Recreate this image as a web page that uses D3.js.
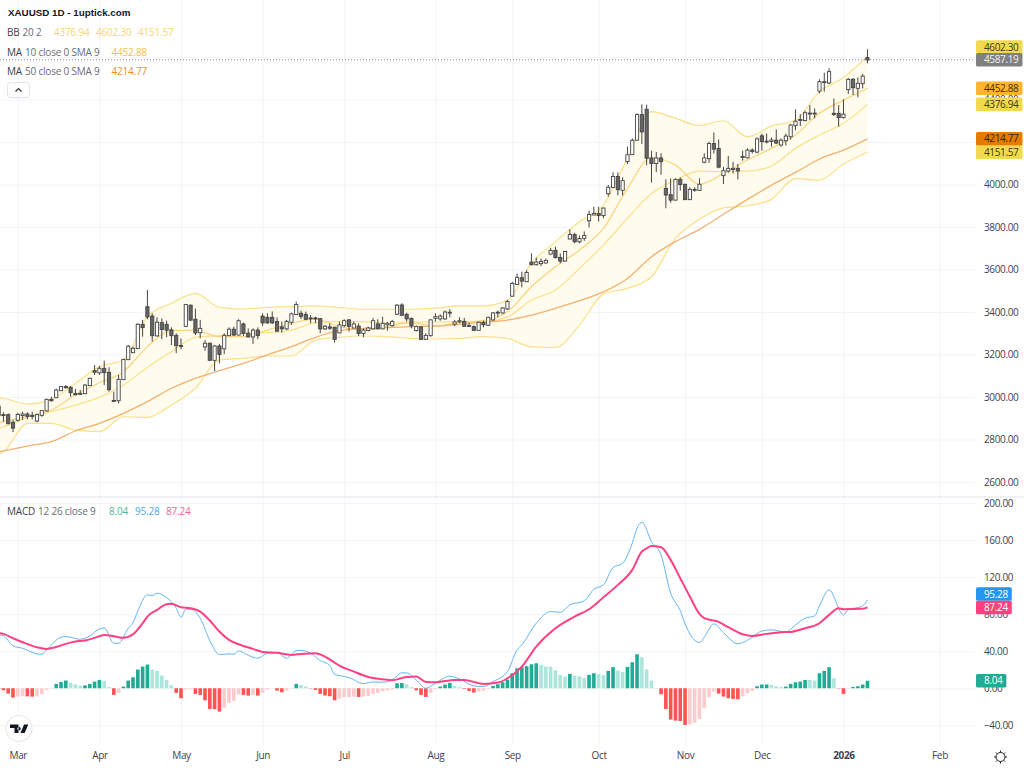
<!DOCTYPE html>
<html>
<head>
<meta charset="utf-8">
<script src="https://cdn.jsdelivr.net/npm/d3@7"></script>
<style>
html,body{margin:0;padding:0;background:#fff;overflow:hidden}
text{font-family:"Open Sans",sans-serif;font-size:10px;letter-spacing:-0.2px}
.tick text,.tag{letter-spacing:-0.35px}
</style>
</head>
<body>
<svg id="chart" width="1024" height="768"></svg>
<script>
//candles, first one is bar -1 (cut by the left edge)
var opens=[2957,2917,2917,2881,2892,2914,2920,2914,2888,2915,
2936,2989,2998,3031,3049,3045,3017,3017,3017,3055,
3124,3115,3135,3116,2984,2984,3083,3177,3210,3229,
3342,3425,3381,3289,3350,3342,3316,3290,3242,3334,
3432,3366,3304,3237,3253,3174,3240,3228,3290,3319,
3293,3344,3300,3284,3315,3381,3375,3375,3355,3330,
3322,3353,3389,3394,3389,3372,3372,3369,3322,3330,
3328,3303,3337,3363,3326,3334,3300,3314,3322,3344,
3322,3341,3337,3391,3433,3389,3370,3314,3330,3273,
3290,3372,3369,3369,3396,3344,3355,3356,3336,3331,
3315,3350,3339,3364,3396,3397,3416,3476,3531,3561,
3544,3635,3624,3629,3632,3674,3690,3657,3641,3745,
3764,3732,3748,3831,3858,3864,3855,3958,3987,4038,
3974,4109,4142,4210,4329,4354,4125,4100,4125,3982,
3952,3928,4024,4001,3930,3974,3974,4106,4123,4193,
4170,4043,4065,4072,4076,4129,4127,4162,4154,4229,
4201,4204,4209,4187,4207,4226,4278,4303,4302,4333,
4333,4441,4481,4479,4335,4335,4316,4448,4495,4454,
4476,4597]
var highs=[2970,2928,2923,2892,2926,2931,2928,2931,2923,2939,
2992,3001,3039,3052,3056,3052,3038,3033,3061,3091,
3151,3146,3171,3140,3025,3104,3180,3245,3237,3347,
3363,3504,3394,3375,3370,3359,3328,3300,3276,3438,
3435,3416,3363,3268,3256,3245,3250,3300,3328,3331,
3366,3350,3323,3323,3328,3394,3394,3403,3375,3355,
3363,3397,3449,3407,3402,3386,3378,3372,3339,3347,
3331,3355,3366,3366,3355,3347,3322,3331,3372,3366,
3378,3353,3363,3438,3441,3397,3374,3337,3333,3300,
3366,3394,3389,3407,3413,3363,3375,3372,3350,3337,
3355,3359,3378,3400,3407,3422,3457,3542,3581,3589,
3597,3676,3657,3652,3652,3702,3707,3676,3688,3789,
3773,3760,3779,3877,3895,3895,3892,3998,4057,4057,
4034,4178,4217,4335,4377,4376,4159,4153,4147,4024,
4029,4029,4034,4004,3987,3987,4029,4147,4201,4245,
4212,4083,4134,4107,4096,4159,4170,4170,4222,4240,
4240,4222,4259,4217,4240,4284,4353,4331,4347,4374,
4358,4495,4526,4547,4405,4374,4401,4501,4501,4504,
4520,4636]
var lows=[2907,2884,2871,2835,2884,2892,2895,2895,2881,2907,
2932,2978,2995,3028,3039,3001,3008,3011,3014,3052,
3104,3104,3056,3025,2976,2970,3080,3174,3207,3226,
3284,3366,3261,3284,3272,3281,3245,3206,3224,3328,
3359,3292,3276,3218,3171,3122,3158,3202,3287,3287,
3289,3287,3281,3250,3272,3334,3344,3344,3308,3303,
3315,3339,3386,3367,3363,3347,3347,3300,3315,3315,
3256,3300,3328,3308,3323,3287,3281,3309,3319,3319,
3319,3312,3331,3385,3383,3355,3323,3308,3268,3268,
3284,3355,3359,3363,3375,3334,3347,3331,3331,3312,
3312,3328,3334,3359,3375,3391,3410,3472,3528,3516,
3541,3619,3619,3616,3629,3668,3652,3629,3636,3742,
3723,3723,3735,3798,3855,3825,3841,3943,3983,3949,
3949,4096,4139,4206,4191,4090,4009,4059,4046,3888,
3914,3924,3971,3927,3927,3966,3971,4100,4102,4146,
4076,4002,4055,4052,4024,4112,4123,4146,4146,4159,
4193,4178,4190,4178,4184,4212,4256,4275,4297,4303,
4311,4429,4437,4473,4322,4272,4311,4426,4421,4410,
4452,4570]
var closes=[2915,2914,2876,2855,2918,2920,2910,2910,2917,2936,
2989,2984,3033,3049,3045,3022,3012,3014,3056,3088,
3118,3135,3116,3036,2981,3083,3177,3239,3229,3342,
3328,3378,3290,3352,3319,3316,3290,3243,3239,3435,
3363,3303,3323,3253,3174,3240,3202,3290,3319,3293,
3359,3300,3284,3315,3290,3350,3350,3350,3311,3322,
3356,3391,3435,3381,3367,3369,3369,3322,3333,3325,
3273,3339,3359,3334,3344,3300,3315,3325,3359,3322,
3347,3347,3355,3432,3386,3369,3336,3331,3273,3290,
3363,3378,3381,3400,3399,3353,3359,3334,3334,3315,
3352,3341,3375,3396,3399,3419,3449,3534,3563,3547,
3586,3624,3635,3638,3643,3690,3657,3641,3685,3765,
3732,3746,3760,3859,3864,3855,3889,3987,4038,3977,
4018,4140,4208,4329,4249,4125,4100,4125,4109,3952,
3928,4024,4001,3930,3977,3977,4001,4125,4193,4168,
4083,4065,4076,4076,4065,4132,4162,4157,4215,4203,
4204,4209,4196,4209,4228,4280,4298,4306,4338,4336,
4336,4484,4484,4531,4331,4316,4331,4495,4457,4476,
4510,4587.19]

//overlays read every 5 bars
var overlayBars=[-1,0,5,10,15,20,25,30,35,40,45,50,55,60,65,70,75,80,85,90,95,100,105,110,115,120,125,130,135,140,145,150,155,160,165,170,175,180]
var bbUpper=[2997,2994,2967,2989,3064,3143,3174,3378,3441,3488,3422,3414,3422,3425,3429,3421,3413,3413,3413,3418,3429,3429,3456,3629,3731,3825,3903,4123,4343,4312,4277,4300,4225,4275,4303,4437,4504,4602.30]
var bbLower=[2732,2742,2876,2876,2844,2837,2907,2904,2962,3041,3174,3182,3193,3193,3268,3281,3287,3284,3276,3273,3276,3284,3275,3236,3233,3338,3484,3511,3566,3746,3836,3890,3900,3930,4028,4021,4096,4151.57]
var bbBasis=[2852,2860,2904,2931,2962,2998,3056,3140,3213,3281,3289,3300,3303,3315,3350,3355,3355,3347,3352,3353,3355,3355,3377,3456,3503,3605,3715,3841,3958,4021,4063,4060,4063,4087,4170,4233,4288,4376.94]
var ma10=[2876,2884,2907,2939,3009,3067,3119,3237,3312,3315,3284,3284,3315,3347,3366,3331,3315,3331,3350,3334,3350,3359,3401,3519,3613,3691,3793,3982,4126,4092,4001,4052,4115,4170,4233,4335,4397,4452.88]
var ma50=[2742,2746,2769,2790,2840,2876,2923,2978,3041,3088,3124,3158,3198,3237,3281,3312,3323,3326,3331,3334,3342,3352,3362,3385,3417,3453,3495,3558,3660,3731,3789,3860,3930,3997,4057,4120,4162,4214.77]

//macd histogram, one per candle
var histValues=[-0.7,-2.2,-5.8,-10.1,-9,-8.6,-8.8,-9,-8.6,-6.5,
-1.8,-0.4,4.7,6.8,8.3,6.1,4.3,2.9,3.1,4.7,
7.2,9,7.9,1.4,-7.2,-5,1.8,8.3,11.9,20.2,
23.4,25.6,20.2,18.7,13.7,9,3.2,-5,-10.8,-1.4,
-1.1,-6.1,-7.2,-13,-22.3,-22.7,-25.2,-20.9,-15.8,-13.7,
-6.5,-7.2,-7.9,-7.2,-7.9,-4.7,-1.4,-0.2,-2.5,-4.3,
-2.5,-0.4,4.7,3.6,1.8,-0.4,-1.8,-6.1,-7.9,-8.6,
-13,-11.2,-9.7,-9.6,-9,-9.4,-9,-8.3,-6.1,-5,
-3.2,-2.2,-1.4,5.4,5.6,4.3,1.1,-2.2,-7.2,-9.4,
-4.7,-1.1,1.8,4,5.8,2.5,1.1,-0.7,-2.9,-4.7,
-3.6,-2.5,-0.7,2.5,4.3,6.5,9.4,16.2,21.6,22.7,
23.8,25.9,27,25.2,23.4,23.2,19.4,14.4,12.6,15.5,
13.7,13,11.2,14.4,16.2,15.5,14.4,18.7,22.7,19.1,
17.6,23,28.1,36.7,33.5,20.5,8.3,0.4,-6.5,-22.3,
-33.8,-34.9,-35.3,-39.6,-38.9,-37.1,-33.1,-21.6,-9.7,-3.6,
-5.8,-9,-10.8,-11.5,-11.9,-8.6,-5.4,-2.9,2.2,4,
4.1,3.6,2.2,1.4,1.8,4.7,6.5,7.2,9,8.9,
8.3,16.2,18.7,22.7,10.8,-0.4,-6.1,0.1,1.4,2.2,
4,8.04]

var macdBars=[-1,0,2,4,7,8,9,12,13,16,18,20,21,23,24,26,27,28,30,31,32,34,36,37,38,39,41,43,45,47,48,49,51,53,55,57,59,61,62,64,66,68,69,70,72,75,77,79,81,83,84,86,88,90,93,95,98,100,102,105,107,108,111,114,116,118,121,123,125,127,129,131,132,133,135,137,139,141,142,145,146,148,150,153,154,156,158,160,163,165,167,169,170,172,175,176,178,179,180]
var macdValues=[57.6,56.9,45.7,43.2,37.1,36.7,41.4,55.1,55.8,52.9,56.5,64.1,65.2,48.6,48.6,64.8,70.9,83.5,100.8,100.1,102.6,97.9,86.4,76.7,85.3,85.3,75.6,51.5,36.4,37.1,36.7,40.3,35.6,32.4,37.8,38.5,32.4,40.7,41,37.8,29.9,24.5,14.8,13.7,11.5,5,6.8,6.5,9,16.6,16.6,9,0,5.4,13,10.1,2.5,1.8,7.2,18,41.4,46.8,70.2,82.8,82.1,90,94.3,106.9,111.6,130.3,135,156.6,172.8,179.3,158.4,144,102.6,83.9,69.5,49.3,55.1,69.5,60.1,47.9,49.3,55.1,61.9,63,60.8,68.4,75.6,78.1,88.9,106.2,79.2,85.3,87.1,88.9,95.28]
var signalBars=[-1,0,2,4,7,9,11,13,15,17,19,21,23,25,27,29,30,32,34,35,37,39,41,43,45,47,49,52,54,57,60,62,65,67,69,70,73,76,79,81,84,86,88,90,94,96,100,103,105,108,111,115,119,122,125,128,131,133,134,135,137,139,141,143,145,146,149,151,154,156,159,162,164,167,170,172,174,175,179,180]
var signalValues=[59.4,58.7,54,49.7,44.3,42.5,44.6,47.9,50.4,51.5,54.4,57.6,56.2,54.4,58.3,70.2,77.4,84.6,90.7,91.1,87.5,86.4,82.8,73.1,61.2,52.2,47.5,42.5,39.2,38.2,36,37.1,37.8,34.2,27.7,24.5,18,12.2,9.7,8.6,12.2,12.6,6.8,6.5,9,9,4.7,6.1,10.8,23.4,45,64.8,77.4,85.3,98.3,111.6,127.8,147.6,151,153.7,152.3,138.6,118.8,99,80.3,75.6,71.6,65.9,58.3,56.5,58.7,60.5,60.8,64.8,70.2,79.2,86.4,85.3,85.7,87.24]

var priceTicks=[2600,2800,3000,3200,3400,3600,3800,4000,4200,4400,4600]
var hiddenPriceLabels=[4200,4600] //sit fully under the tags in the original
var macdTicks=[-40,0,40,80,120,160,200]
var monthBars=[3,20,37,54,71,90,106,124,142,158,175,195]
var monthLabels=["Mar","Apr","May","Jun","Jul","Aug","Sep","Oct","Nov","Dec","2026","Feb"]

var chartW=975
var svg=d3.select("#chart")

var x=d3.scaleLinear().domain([0,202.4]).range([3.4,chartW])
var yPrice=d3.scaleLinear().domain([2600,4600]).range([482,57])
var yMacd=d3.scaleLinear().domain([-40,200]).range([725.3,503])

//grid and axes
var styleAxis=function(g){
    g.select(".domain").remove()
    g.selectAll("line").attr("stroke","#f3f4f8")
    g.selectAll("text").attr("fill","#3d4250")
}
var timeAxis=d3.axisBottom(x).tickValues(monthBars).tickSize(-745).tickPadding(7)
    .tickFormat(function(d,i){return monthLabels[i]})
svg.append("g").attr("transform","translate(0,745)").call(timeAxis).call(styleAxis)
    .selectAll("text").style("font-weight",function(d,i){return monthLabels[i]=="2026"?"bold":"normal"})
var priceAxis=d3.axisRight(yPrice).tickValues(priceTicks).tickSize(-chartW).tickPadding(9)
    .tickFormat(function(d){return hiddenPriceLabels.indexOf(d)>=0?"":d3.format(".2f")(d)})
svg.append("g").attr("transform","translate("+chartW+",0)").call(priceAxis).call(styleAxis)
var macdAxis=d3.axisRight(yMacd).tickValues(macdTicks).tickSize(-chartW).tickPadding(9).tickFormat(d3.format(".2f"))
svg.append("g").attr("transform","translate("+chartW+",0)").call(macdAxis).call(styleAxis)

svg.append("line").attr("x1",0).attr("x2",1024).attr("y1",497).attr("y2",497).attr("stroke","#e0e3eb")

//bollinger fill
var band=d3.area()
    .x(function(d,i){return x(overlayBars[i])})
    .y0(function(d,i){return yPrice(bbLower[i])})
    .y1(function(d){return yPrice(d)})
    .curve(d3.curveMonotoneX)
svg.append("path").datum(bbUpper).attr("d",band).attr("fill","#fffcee")

var drawLine=function(bars,values,scale,color,width){
    var line=d3.line()
        .x(function(d,i){return x(bars[i])})
        .y(function(d){return scale(d)})
        .curve(d3.curveMonotoneX)
    svg.append("path").datum(values).attr("d",line).attr("fill","none")
        .attr("stroke",color).attr("stroke-width",width)
}
drawLine(overlayBars,bbUpper,yPrice,"#fae08a",1.2)
drawLine(overlayBars,bbLower,yPrice,"#fae08a",1.2)
drawLine(overlayBars,bbBasis,yPrice,"#fae08a",1.2)
drawLine(overlayBars,ma10,yPrice,"#fbd27a",1.2)
drawLine(overlayBars,ma50,yPrice,"#f3b070",1.3)

//last price line
svg.append("line").attr("x1",0).attr("x2",chartW)
    .attr("y1",yPrice(4587.19)).attr("y2",yPrice(4587.19))
    .attr("stroke","#8a8a8a").attr("stroke-dasharray","1,2")

//candles
var candles=svg.append("g").selectAll("g").data(closes).enter().append("g")
candles.append("line")
    .attr("x1",function(d,i){return x(i-1)}).attr("x2",function(d,i){return x(i-1)})
    .attr("y1",function(d,i){return yPrice(highs[i])}).attr("y2",function(d,i){return yPrice(lows[i])})
    .attr("stroke","#444444")
candles.append("rect")
    .attr("x",function(d,i){return x(i-1)-1.6}).attr("width",3.2)
    .attr("y",function(d,i){return yPrice(Math.max(opens[i],closes[i]))})
    .attr("height",function(d,i){return Math.abs(yPrice(opens[i])-yPrice(closes[i]))+0.3})
    .attr("fill",function(d,i){return closes[i]>=opens[i]?"#ffffff":"#666666"})
    .attr("stroke","#444444").attr("stroke-width",0.9)

//macd histogram
svg.append("g").selectAll("rect").data(histValues).enter().append("rect")
    .attr("x",function(d,i){return x(i-1)-1.8}).attr("width",3.6)
    .attr("y",function(d){return d>0?yMacd(d):yMacd(0)})
    .attr("height",function(d){return Math.abs(yMacd(d)-yMacd(0))})
    .attr("fill",function(d,i){
        var prev=i>0?histValues[i-1]:0
        if(d>=0){return d>prev?"#22ab94":"#ace5dc"}
        return d<prev?"#ff5252":"#fccbcd"
    })
drawLine(macdBars,macdValues,yMacd,"#64b5f6",1)
drawLine(signalBars,signalValues,yMacd,"#ff4081",2)

//price tags on the right
var tags=[
 {v:4602.30,y:yPrice(4602.30)-9.5,fill:"#f2d94e",text:"#3a3a20"},
 {v:4452.88,y:yPrice(4452.88),fill:"#ffb52e",text:"#3a3010"},
 {v:4376.94,y:yPrice(4376.94),fill:"#f2d94e",text:"#3a3a20"},
 {v:4214.77,y:yPrice(4214.77),fill:"#e57c00",text:"#2e2410"},
 {v:4151.57,y:yPrice(4151.57),fill:"#f2d94e",text:"#3a3a20"},
 {v:4587.19,y:yPrice(4587.19),fill:"#808080",text:"#f2f2f2"},
 {v:95.28,y:yMacd(95.28)-6,fill:"#2196f3",text:"#ffffff"},
 {v:87.24,y:yMacd(87.24),fill:"#ff4081",text:"#ffffff"},
 {v:8.04,y:yMacd(8.04),fill:"#22ab94",text:"#ffffff"}
]
var tagG=svg.append("g").selectAll("g").data(tags).enter().append("g")
tagG.append("text").attr("class","tag").attr("x",984)
    .attr("y",function(d){return d.y}).attr("dy","0.36em")
    .attr("fill",function(d){return d.text})
    .text(function(d){return d3.format(".2f")(d.v)})
tagG.insert("rect","text").attr("x",976)
    .attr("y",function(d){return d.y-6.8}).attr("height",13.6).attr("rx",1.5)
    .attr("width",function(){return 12+this.parentNode.querySelector("text").getComputedTextLength()})
    .attr("fill",function(d){return d.fill})

//legends
var legend=function(px,py,txt,color,weight){
    svg.append("text").attr("x",px).attr("y",py).attr("dy","0.36em")
        .attr("fill",color).style("font-weight",weight||"normal").text(txt)
}
svg.append("text").attr("x",8).attr("y",12.5).attr("dy","0.36em").attr("fill","#131722")
    .style("font-family","'Liberation Sans',sans-serif").style("font-size","9.8px").style("font-weight","bold").style("letter-spacing","0")
    .text("XAUUSD 1D - 1uptick.com")
legend(7,32.5,"BB","#3d4250")
legend(22.5,32.5,"20 2","#6a6d78")
legend(54,32.5,"4376.94","#f7d66e")
legend(96,32.5,"4602.30","#f7d66e")
legend(138,32.5,"4151.57","#f7d66e")
legend(7,52,"MA","#3d4250")
legend(25,52,"10 close 0 SMA 9","#6a6d78")
legend(111.5,52,"4452.88","#f9c04a")
legend(7,71,"MA","#3d4250")
legend(25,71,"50 close 0 SMA 9","#6a6d78")
legend(111.5,71,"4214.77","#ec8f1e")
legend(7,511,"MACD","#3d4250")
legend(38,511,"12 26 close 9","#6a6d78")
legend(109,511,"8.04","#4db6a0")
legend(135,511,"95.28","#4fa9f0")
legend(166,511,"87.24","#f9628f")

//collapse button
svg.append("rect").attr("x",7.5).attr("y",82.5).attr("width",22).attr("height",15).attr("rx",3)
    .attr("fill","#fff").attr("stroke","#e0e3eb")
svg.append("path").attr("d","M15.5,91.5l3,-3l3,3").attr("fill","none").attr("stroke","#333").attr("stroke-width",1.2)

//tv logo
svg.append("circle").attr("cx",19).attr("cy",728.5).attr("r",13).attr("fill","#fff").attr("stroke","#e8e9ee").attr("stroke-width",1.2)
svg.append("path").attr("fill","#131722")
    .attr("d","M10,724.5h8.5v8.5h-4v-5h-4.5zM19,727a1.7,1.7 0 1 0 0.01,0zM24,724.5h4.3l-3.6,8.5h-4.2z")

//settings gear
var gear=svg.append("g").attr("transform","translate(1000.5,757)")
gear.append("circle").attr("r",4.5).attr("fill","none").attr("stroke","#222").attr("stroke-width",1)
gear.selectAll("line").data(d3.range(8)).enter().append("line")
    .attr("x1",function(d){return 4.5*Math.cos(d*Math.PI/4)}).attr("y1",function(d){return 4.5*Math.sin(d*Math.PI/4)})
    .attr("x2",function(d){return 6.5*Math.cos(d*Math.PI/4)}).attr("y2",function(d){return 6.5*Math.sin(d*Math.PI/4)})
    .attr("stroke","#222").attr("stroke-width",1)
</script>
</body>
</html>
